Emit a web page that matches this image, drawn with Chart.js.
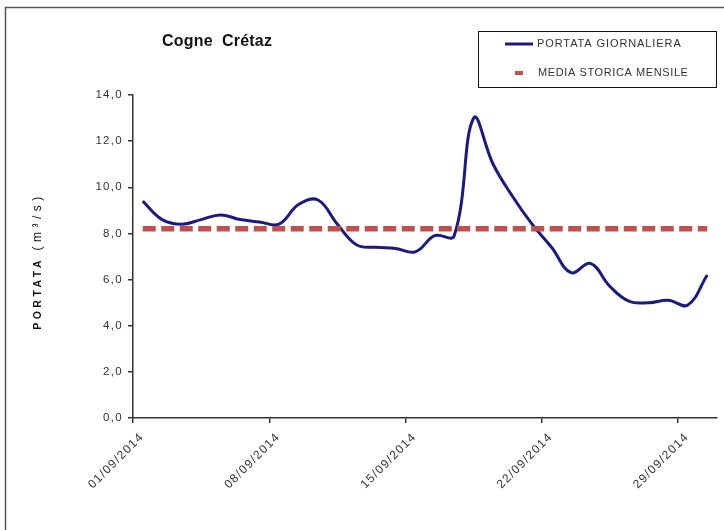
<!DOCTYPE html>
<html>
<head>
<meta charset="utf-8">
<script src="https://cdn.jsdelivr.net/npm/chart.js@4.4.1/dist/chart.umd.min.js"></script>
<style>
  html, body { margin: 0; padding: 0; background: #fff; }
  #wrap { position: relative; width: 724px; height: 530px; }
</style>
</head>
<body>
<div id="wrap"><canvas id="portataChart" width="724" height="530"></canvas></div>
<script>
// --- data ---
const chartTitle = 'Cogne  Crétaz';
const yAxisTitle = 'PORTATA';
const yAxisUnit = '(m³/s)';
const legendLabels = ['PORTATA GIORNALIERA', 'MEDIA STORICA MENSILE'];

const dates = [
  '01/09/2014', '02/09/2014', '03/09/2014', '04/09/2014', '05/09/2014',
  '06/09/2014', '07/09/2014', '08/09/2014', '09/09/2014', '10/09/2014',
  '11/09/2014', '12/09/2014', '13/09/2014', '14/09/2014', '15/09/2014',
  '16/09/2014', '17/09/2014', '18/09/2014', '19/09/2014', '20/09/2014',
  '21/09/2014', '22/09/2014', '23/09/2014', '24/09/2014', '25/09/2014',
  '26/09/2014', '27/09/2014', '28/09/2014', '29/09/2014', '30/09/2014'
];
const portataGiornaliera = [
  9.4, 8.6, 8.4, 8.6, 8.8, 8.6, 8.5, 8.4, 9.25, 9.45,
  8.4, 7.5, 7.4, 7.35, 7.2, 7.9, 7.9, 13.0, 11.0, 9.6,
  8.4, 7.4, 6.3, 6.7, 5.7, 5.05, 5.0, 5.1, 4.9, 6.2
];
const mediaStoricaMensile = 8.2;
// dates that get a tick label on the x axis
const xTickDates = ['01/09/2014', '08/09/2014', '15/09/2014', '22/09/2014', '29/09/2014'];
const yMin = 0, yMax = 14, yStep = 2;

const colBlue = '#1b1a80';
const colRed = '#c0504d';
const colText = '#333';
const fontFamily = '"Liberation Sans", Arial, sans-serif';

// each day sits in the middle of its slot, ticks are on the slot edges
const portataPoints = dates.map((d, i) => ({ x: i + 0.5, y: portataGiornaliera[i] }));
const mediaPoints = dates.map((d, i) => ({ x: i + 0.5, y: mediaStoricaMensile }));

// title, legend box, y title and outer frame
const decorations = {
  id: 'decorations',
  beforeDraw(chart) {
    const ctx = chart.ctx;
    ctx.save();
    ctx.fillStyle = '#fff';
    ctx.fillRect(0, 0, chart.width, chart.height);
    ctx.strokeStyle = '#555';
    ctx.lineWidth = 1.5;
    ctx.beginPath();
    ctx.moveTo(5.5, chart.height);
    ctx.lineTo(5.5, 7.5);
    ctx.lineTo(chart.width, 7.5);
    ctx.stroke();
    ctx.restore();
    // the excel tick labels are a bit loosely spaced
    ctx.letterSpacing = '1.3px';
  },
  afterDraw(chart) {
    const ctx = chart.ctx;
    ctx.save();

    // chart title
    ctx.fillStyle = '#111';
    ctx.font = 'bold 16px ' + fontFamily;
    ctx.letterSpacing = '0.2px';
    ctx.textBaseline = 'middle';
    ctx.textAlign = 'left';
    ctx.fillText(chartTitle, 162, 42);

    // legend box
    ctx.strokeStyle = '#111';
    ctx.lineWidth = 1;
    ctx.strokeRect(478.5, 31.5, 238, 56);

    ctx.strokeStyle = colBlue;
    ctx.lineWidth = 3;
    ctx.beginPath();
    ctx.moveTo(505, 44);
    ctx.lineTo(533, 44);
    ctx.stroke();

    ctx.strokeStyle = colRed;
    ctx.lineWidth = 4;
    ctx.beginPath();
    ctx.moveTo(515, 73);
    ctx.lineTo(523, 73);
    ctx.stroke();

    ctx.fillStyle = colText;
    ctx.font = '11px ' + fontFamily;
    ctx.letterSpacing = '0.9px';
    ctx.fillText(legendLabels[0], 537, 44);
    ctx.letterSpacing = '0.6px';
    ctx.fillText(legendLabels[1], 538, 73);

    // y axis title, rotated
    ctx.translate(38, 261);
    ctx.rotate(-Math.PI / 2);
    ctx.font = 'bold 10.5px ' + fontFamily;
    ctx.letterSpacing = '3.5px';
    const w1 = ctx.measureText(yAxisTitle + ' ').width;
    ctx.font = '12px ' + fontFamily;
    ctx.letterSpacing = '4.5px';
    const w2 = ctx.measureText(yAxisUnit).width;
    const start = -(w1 + w2) / 2;
    ctx.fillStyle = '#111';
    ctx.font = 'bold 10.5px ' + fontFamily;
    ctx.letterSpacing = '3.5px';
    ctx.fillText(yAxisTitle + ' ', start, 0);
    ctx.font = '12px ' + fontFamily;
    ctx.letterSpacing = '4.5px';
    ctx.fillText(yAxisUnit, start + w1, 0);

    ctx.restore();
  }
};

new Chart(document.getElementById('portataChart'), {
  type: 'line',
  data: {
    datasets: [
      {
        label: legendLabels[1],
        data: mediaPoints,
        borderColor: colRed,
        borderWidth: 5.5,
        borderDash: [13, 5.5],
        borderCapStyle: 'butt',
        pointRadius: 0,
        fill: false,
        order: 0
      },
      {
        label: legendLabels[0],
        data: portataPoints,
        borderColor: colBlue,
        borderWidth: 3,
        tension: 0.4,
        pointRadius: 0,
        fill: false,
        order: 1
      }
    ]
  },
  options: {
    responsive: false,
    animation: false,
    devicePixelRatio: 1,
    layout: { padding: { top: 95, right: 7, bottom: 0, left: 0 } },
    plugins: {
      legend: { display: false },
      title: { display: false },
      tooltip: { enabled: false }
    },
    scales: {
      x: {
        type: 'linear',
        min: 0,
        max: dates.length,
        afterBuildTicks: function(scale) {
          scale.ticks = xTickDates.map(d => ({ value: dates.indexOf(d) }));
        },
        afterFit: function(scale) { scale.height = 112; },
        grid: { drawOnChartArea: false, drawTicks: true, tickLength: 5, color: '#333', lineWidth: 1.5 },
        border: { color: '#333', width: 1.5 },
        ticks: {
          autoSkip: false,
          minRotation: 45,
          maxRotation: 45,
          padding: 7,
          labelOffset: 9,
          color: colText,
          font: { family: fontFamily, size: 12 },
          callback: function(value) { return dates[value]; }
        }
      },
      y: {
        min: yMin,
        max: yMax,
        afterFit: function(scale) { scale.width = 133; },
        grid: { drawOnChartArea: false, drawTicks: true, tickLength: 5, color: '#333', lineWidth: 1.5 },
        border: { color: '#333', width: 1.5 },
        ticks: {
          stepSize: yStep,
          padding: 5,
          color: colText,
          font: { family: fontFamily, size: 11.5 },
          callback: function(value) { return value.toFixed(1).replace('.', ','); }
        }
      }
    }
  },
  plugins: [decorations]
});
</script>
</body>
</html>
